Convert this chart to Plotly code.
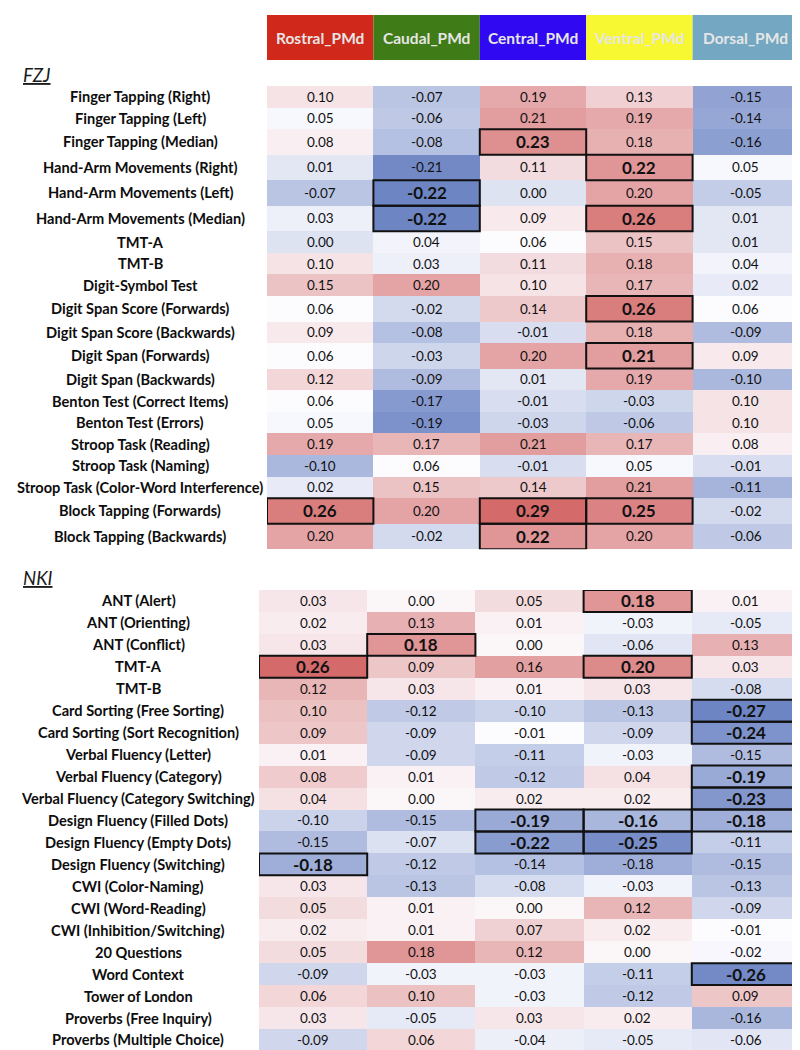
import numpy as np
import plotly.graph_objects as go

# ---------------- data ----------------
columns = ["Rostral_PMd", "Caudal_PMd", "Central_PMd", "Ventral_PMd", "Dorsal_PMd"]
header_colors = ["#D1281C", "#3F7B16", "#3008F2", "#F8F832", "#73A7C2"]

fzj_tests = [
    "Finger Tapping (Right)", "Finger Tapping (Left)", "Finger Tapping (Median)",
    "Hand-Arm Movements (Right)", "Hand-Arm Movements (Left)", "Hand-Arm Movements (Median)",
    "TMT-A", "TMT-B", "Digit-Symbol Test", "Digit Span Score (Forwards)",
    "Digit Span Score (Backwards)", "Digit Span (Forwards)", "Digit Span (Backwards)",
    "Benton Test (Correct Items)", "Benton Test (Errors)", "Stroop Task (Reading)",
    "Stroop Task (Naming)", "Stroop Task (Color-Word Interference)",
    "Block Tapping (Forwards)", "Block Tapping (Backwards)",
]
fzj_values = [
    [0.10, -0.07, 0.19, 0.13, -0.15],
    [0.05, -0.06, 0.21, 0.19, -0.14],
    [0.08, -0.08, 0.23, 0.18, -0.16],
    [0.01, -0.21, 0.11, 0.22, 0.05],
    [-0.07, -0.22, 0.00, 0.20, -0.05],
    [0.03, -0.22, 0.09, 0.26, 0.01],
    [0.00, 0.04, 0.06, 0.15, 0.01],
    [0.10, 0.03, 0.11, 0.18, 0.04],
    [0.15, 0.20, 0.10, 0.17, 0.02],
    [0.06, -0.02, 0.14, 0.26, 0.06],
    [0.09, -0.08, -0.01, 0.18, -0.09],
    [0.06, -0.03, 0.20, 0.21, 0.09],
    [0.12, -0.09, 0.01, 0.19, -0.10],
    [0.06, -0.17, -0.01, -0.03, 0.10],
    [0.05, -0.19, -0.03, -0.06, 0.10],
    [0.19, 0.17, 0.21, 0.17, 0.08],
    [-0.10, 0.06, -0.01, 0.05, -0.01],
    [0.02, 0.15, 0.14, 0.21, -0.11],
    [0.26, 0.20, 0.29, 0.25, -0.02],
    [0.20, -0.02, 0.22, 0.20, -0.06],
]
fzj_significant = [(2, 2), (3, 3), (4, 1), (5, 1), (5, 3), (9, 3), (11, 3),
                   (18, 0), (18, 2), (18, 3), (19, 2)]

nki_tests = [
    "ANT (Alert)", "ANT (Orienting)", "ANT (Conflict)", "TMT-A", "TMT-B",
    "Card Sorting (Free Sorting)", "Card Sorting (Sort Recognition)",
    "Verbal Fluency (Letter)", "Verbal Fluency (Category)",
    "Verbal Fluency (Category Switching)", "Design Fluency (Filled Dots)",
    "Design Fluency (Empty Dots)", "Design Fluency (Switching)",
    "CWI (Color-Naming)", "CWI (Word-Reading)", "CWI (Inhibition/Switching)",
    "20 Questions", "Word Context", "Tower of London",
    "Proverbs (Free Inquiry)", "Proverbs (Multiple Choice)",
]
nki_values = [
    [0.03, 0.00, 0.05, 0.18, 0.01],
    [0.02, 0.13, 0.01, -0.03, -0.05],
    [0.03, 0.18, 0.00, -0.06, 0.13],
    [0.26, 0.09, 0.16, 0.20, 0.03],
    [0.12, 0.03, 0.01, 0.03, -0.08],
    [0.10, -0.12, -0.10, -0.13, -0.27],
    [0.09, -0.09, -0.01, -0.09, -0.24],
    [0.01, -0.09, -0.11, -0.03, -0.15],
    [0.08, 0.01, -0.12, 0.04, -0.19],
    [0.04, 0.00, 0.02, 0.02, -0.23],
    [-0.10, -0.15, -0.19, -0.16, -0.18],
    [-0.15, -0.07, -0.22, -0.25, -0.11],
    [-0.18, -0.12, -0.14, -0.18, -0.15],
    [0.03, -0.13, -0.08, -0.03, -0.13],
    [0.05, 0.01, 0.00, 0.12, -0.09],
    [0.02, 0.01, 0.07, 0.02, -0.01],
    [0.05, 0.18, 0.12, 0.00, -0.02],
    [-0.09, -0.03, -0.03, -0.11, -0.26],
    [0.06, 0.10, -0.03, -0.12, 0.09],
    [0.03, -0.05, 0.03, 0.02, -0.16],
    [-0.09, 0.06, -0.04, -0.05, -0.06],
]
nki_significant = [(0, 3), (2, 1), (3, 0), (3, 3), (5, 4), (6, 4), (8, 4), (9, 4),
                   (10, 2), (10, 3), (10, 4), (11, 2), (11, 3), (12, 0), (17, 4)]

# ---------------- styling ----------------
W, H = 800, 1050
FONT = "Lato, Carlito, Calibri, 'Open Sans', sans-serif"
BLUE, WHITE, RED = "rgb(110,133,196)", "rgb(252,252,255)", "rgb(212,106,106)"


def py(px):
    return 1 - px / H


panels = [
    dict(name="FZJ", tests=fzj_tests, values=fzj_values, sig=fzj_significant,
         xa="x", ya="y", x0=259, x1=791, top=78, normal=21.6, tall=25.5,
         label_x=132, title_y=67),
    dict(name="NKI", tests=nki_tests, values=nki_values, sig=nki_significant,
         xa="x2", ya="y2", x0=251, x1=792, top=582, normal=21.95, tall=21.95,
         label_x=130, title_y=570),
]

fig = go.Figure()
annotations, shapes = [], []
layout_axes = {}

for k, p in enumerate(panels):
    z = np.array(p["values"], dtype=float)
    nrow, ncol = z.shape
    sigset = set(p["sig"])
    sig_rows = {r for r, _ in sigset}
    heights = np.array([p["tall"] if r in sig_rows else p["normal"] for r in range(nrow)])
    yedges = np.concatenate([[0.0], np.cumsum(heights)])
    total = yedges[-1]
    xedges = np.arange(ncol + 1)

    zmin, zmax, zmid = z.min(), z.max(), float(np.median(z))
    t = (zmid - zmin) / (zmax - zmin)
    fig.add_trace(go.Heatmap(
        z=z, x=xedges, y=yedges, xaxis=p["xa"], yaxis=p["ya"],
        zmin=zmin, zmax=zmax,
        colorscale=[[0, BLUE], [t, WHITE], [1, RED]],
        showscale=False, hoverinfo="skip", xgap=0, ygap=0,
    ))

    suffix = "" if k == 0 else str(k + 1)
    layout_axes["xaxis" + suffix] = dict(
        domain=[p["x0"] / W, p["x1"] / W], range=[0, ncol], visible=False,
        anchor=p["ya"], fixedrange=True)
    layout_axes["yaxis" + suffix] = dict(
        domain=[py(p["top"] + total), py(p["top"])], range=[total, 0], visible=False,
        anchor=p["xa"], fixedrange=True)

    # section title
    annotations.append(dict(
        text="<i><u>" + p["name"] + "</u></i>", xref="paper", yref="paper",
        x=13 / W, y=py(p["title_y"]), xanchor="left", yanchor="middle",
        showarrow=False, font=dict(family=FONT, size=18.5, color="#1a1a1a")))

    for i in range(nrow):
        yc = (yedges[i] + yedges[i + 1]) / 2
        annotations.append(dict(
            text="<b>" + p["tests"][i] + "</b>", xref="paper", yref=p["ya"],
            x=p["label_x"] / W, y=yc, xanchor="center", yanchor="middle",
            showarrow=False, font=dict(family=FONT, size=14.6, color="#0d0d0d")))
        for j in range(ncol):
            v = z[i, j]
            txt = f"{v:.2f}"
            if (i, j) in sigset:
                txt = "<b>" + txt + "</b>"
                size = 17
            else:
                size = 13.5
            annotations.append(dict(
                text=txt, xref=p["xa"], yref=p["ya"], x=j + 0.5, y=yc,
                xanchor="center", yanchor="middle", showarrow=False,
                font=dict(family=FONT, size=size, color="#111111")))

    for (i, j) in p["sig"]:
        shapes.append(dict(
            type="rect", xref=p["xa"], yref=p["ya"], x0=j, x1=j + 1,
            y0=yedges[i], y1=yedges[i + 1], line=dict(color="#111111", width=2),
            fillcolor="rgba(0,0,0,0)", layer="above"))

# header row (column names)
for j, (name, col) in enumerate(zip(columns, header_colors)):
    shapes.append(dict(
        type="rect", xref="x", yref="paper", x0=j, x1=j + 1,
        y0=py(52), y1=py(7), fillcolor=col, line=dict(width=0), layer="below"))
    annotations.append(dict(
        text="<b>" + name + "</b>", xref="x", yref="paper", x=j + 0.5, y=py(30),
        xanchor="center", yanchor="middle", showarrow=False,
        font=dict(family=FONT, size=15.5, color="#E6E6E6")))

fig.update_layout(
    width=W, height=H, margin=dict(l=0, r=0, t=0, b=0),
    paper_bgcolor="white", plot_bgcolor="white",
    annotations=annotations, shapes=shapes, showlegend=False,
    **layout_axes,
)

fig.write_html("out.html")
